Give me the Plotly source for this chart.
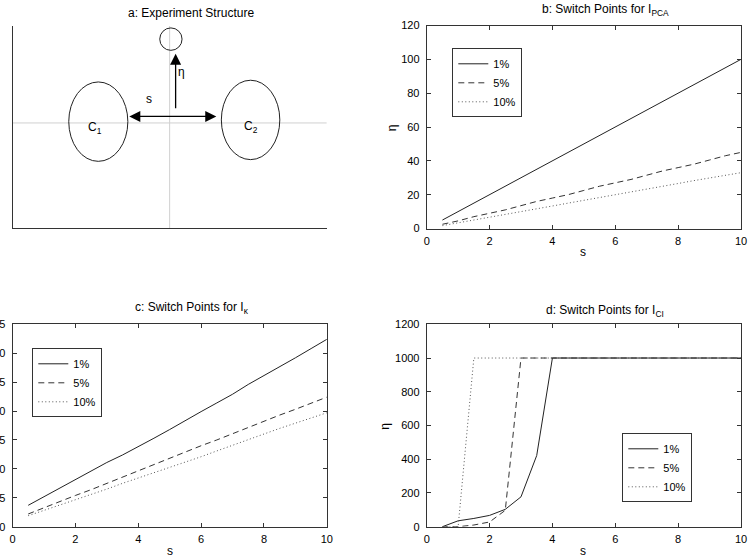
import plotly.graph_objects as go

# ---------------- data ----------------
s_values = [0.5, 1, 1.5, 2, 2.5, 3, 3.5, 4, 4.5, 5, 5.5, 6, 6.5, 7, 7.5, 8, 8.5, 9, 9.5, 10]
series_names = ["1%", "5%", "10%"]

# b: switch points for I_PCA
pca_1 = [5, 10, 15, 20, 25, 30, 35, 40, 45, 50, 55, 60, 65, 70, 75, 80, 85, 90, 95, 100]
pca_5 = [2.5, 4.5, 7, 9, 11, 13.5, 16, 18, 20, 22.5, 25, 27, 29, 31.5, 34, 36, 38, 40.5, 43, 45]
pca_10 = [1.7, 3.3, 5, 6.6, 8.3, 10, 11.6, 13.3, 15, 16.6, 18.3, 20, 21.6, 23.3, 25, 26.6, 28.3, 30, 31.6, 33]

# c: switch points for I_kappa
kap_1 = [3.7, 5.2, 6.7, 8.2, 9.6, 11.1, 12.4, 13.8, 15.3, 16.8, 18.4, 19.9, 21.4, 22.9, 24.6, 26.1, 27.6, 29.2, 30.8, 32.4]
kap_5 = [2.2, 3.3, 4.3, 5.4, 6.4, 7.5, 8.6, 9.6, 10.7, 11.8, 12.9, 14.0, 15.0, 16.1, 17.2, 18.3, 19.3, 20.3, 21.4, 22.4]
kap_10 = [1.9, 2.8, 3.7, 4.6, 5.6, 6.5, 7.5, 8.4, 9.3, 10.2, 11.2, 12.1, 13.1, 14.1, 15.1, 16.1, 17.0, 17.9, 18.8, 19.7]

# d: switch points for I_CI
ci_1 = [0, 35, 49, 67, 103, 177, 422, 1000, 1000, 1000, 1000, 1000, 1000, 1000, 1000, 1000, 1000, 1000, 1000, 1000]
ci_5 = [0, 0, 10, 28, 97, 1000, 1000, 1000, 1000, 1000, 1000, 1000, 1000, 1000, 1000, 1000, 1000, 1000, 1000, 1000]
ci_10 = [0, 0, 1000, 1000, 1000, 1000, 1000, 1000, 1000, 1000, 1000, 1000, 1000, 1000, 1000, 1000, 1000, 1000, 1000, 1000]

x_ticks = [0, 2, 4, 6, 8, 10]
b_y_ticks = [0, 20, 40, 60, 80, 100, 120]
c_y_ticks = [0, 5, 10, 15, 20, 25, 30, 35]
d_y_ticks = [0, 200, 400, 600, 800, 1000, 1200]

# a: experiment structure (schematic coordinates)
ellipse_names = ["C<sub>1</sub>", "C<sub>2</sub>", ""]
ellipse_cx = [-0.454, 0.515, 0.008]
ellipse_cy = [0.013, 0.030, 0.830]
ellipse_rx = [0.188, 0.186, 0.071]
ellipse_ry = [0.393, 0.393, 0.111]
label_x = [-0.475, 0.516]
label_y = [-0.05, -0.035]
eta_arrow = [0.038, 0.072, 0.038, 0.686]     # x0, y0, x1, y1
s_arrow = [-0.276, 0.065, 0.297, 0.065]      # x0, y0, x1, y1
eta_text_xy = [0.076, 0.503]
s_text_xy = [-0.134, 0.234]

FONT = "Liberation Sans, Arial, Helvetica, sans-serif"
FS = 11
FT = 12
AX = "#333333"
W, H = 750, 558

def px(xp):
    return xp / W

def py(yp):
    return 1 - yp / H

fig = go.Figure()

styles = [dict(color="#222222", width=1, dash="solid"),
          dict(color="#333333", width=1, dash="6px,4px"),
          dict(color="#555555", width=1, dash="1px,2.5px")]

panel_data = [("x2", "y2", "legend", [pca_1, pca_5, pca_10]),
              ("x3", "y3", "legend2", [kap_1, kap_5, kap_10]),
              ("x4", "y4", "legend3", [ci_1, ci_5, ci_10])]
for xa, ya, lg, ser in panel_data:
    for name, vals, st in zip(series_names, ser, styles):
        fig.add_trace(go.Scatter(x=s_values, y=vals, mode="lines", name=name,
                                 line=st, xaxis=xa, yaxis=ya, legend=lg,
                                 hoverinfo="skip"))

def data_axis(dom, rng, ticks, anchor, standoff):
    return dict(domain=dom, range=rng, tickvals=ticks, ticktext=[str(t) for t in ticks],
                ticks="inside", ticklen=4, tickcolor=AX, tickwidth=1,
                showline=True, linecolor=AX, linewidth=1, mirror="allticks",
                showgrid=False, zeroline=False, automargin=False, anchor=anchor,
                ticklabelstandoff=standoff,
                tickfont=dict(family=FONT, size=FS, color="black"))

dom_x_left = [px(12.5), px(326.8)]
dom_x_right = [px(426.7), px(741)]
dom_y_top = [py(228.5), py(25.5)]
dom_y_bot = [py(526.7), py(324.3)]

fig.update_layout(
    xaxis=dict(domain=dom_x_left, range=[-1, 1], showline=True, linecolor=AX, linewidth=1,
               ticks="", showticklabels=False, showgrid=False, zeroline=False,
               automargin=False, anchor="y"),
    yaxis=dict(domain=[py(228), py(26)], range=[-1.04, 0.96], showline=True, linecolor=AX,
               linewidth=1, ticks="", showticklabels=False, showgrid=False, zeroline=False,
               automargin=False, anchor="x"),
    xaxis2=data_axis(dom_x_right, [0, 10], x_ticks, "y2", 2),
    yaxis2=data_axis(dom_y_top, [0, 120], b_y_ticks, "x2", 4),
    xaxis3=data_axis(dom_x_left, [0, 10], x_ticks, "y3", 2),
    yaxis3=data_axis(dom_y_bot, [0, 35], c_y_ticks, "x3", 4),
    xaxis4=data_axis(dom_x_right, [0, 10], x_ticks, "y4", 2),
    yaxis4=data_axis(dom_y_bot, [0, 1200], d_y_ticks, "x4", 4),
)

def legend_box(x, y):
    return dict(x=x, y=y, xanchor="left", yanchor="top", xref="paper", yref="paper",
                bgcolor="white", bordercolor=AX, borderwidth=1,
                font=dict(family=FONT, size=FS, color="black"),
                tracegroupgap=0, itemwidth=30)

fig.update_layout(
    width=W, height=558,
    margin=dict(l=0, r=0, t=0, b=0),
    paper_bgcolor="white", plot_bgcolor="white",
    font=dict(family=FONT, size=FS, color="black"),
    showlegend=True,
    legend=legend_box(px(452.3), py(48.3)),
    legend2=legend_box(px(32.3), py(348.3)),
    legend3=legend_box(px(622.3), py(433.3)),
)

# ----- panel a: schematic -----
shapes = []
shapes.append(dict(type="line", xref="x", yref="y", x0=-1, x1=1, y0=0, y1=0,
                   line=dict(color="#d0d0d0", width=1), layer="below"))
shapes.append(dict(type="line", xref="x", yref="y", x0=0, x1=0, y0=-1.04, y1=0.96,
                   line=dict(color="#d0d0d0", width=1), layer="below"))
for cx, cy, rx, ry in zip(ellipse_cx, ellipse_cy, ellipse_rx, ellipse_ry):
    shapes.append(dict(type="circle", xref="x", yref="y", x0=cx - rx, x1=cx + rx,
                       y0=cy - ry, y1=cy + ry, line=dict(color="#222222", width=1)))
fig.update_layout(shapes=shapes)

ann = []
for name, lx, ly in zip(ellipse_names[:2], label_x, label_y):
    ann.append(dict(text=name, x=lx, y=ly, xref="x", yref="y", showarrow=False,
                    font=dict(family=FONT, size=FT, color="black")))
# arrows
ann.append(dict(x=eta_arrow[2], y=eta_arrow[3], ax=eta_arrow[0], ay=eta_arrow[1],
                xref="x", yref="y", axref="x", ayref="y", text=" ", showarrow=True,
                arrowhead=2, arrowsize=1.7, arrowwidth=1.3, arrowcolor="black"))
ann.append(dict(x=s_arrow[2], y=s_arrow[3], ax=s_arrow[0], ay=s_arrow[1],
                xref="x", yref="y", axref="x", ayref="y", text=" ", showarrow=True,
                arrowhead=2, startarrowhead=2, arrowside="end+start",
                arrowsize=1.7, startarrowsize=1.7, arrowwidth=1.3, arrowcolor="black"))
ann.append(dict(text="η", x=eta_text_xy[0], y=eta_text_xy[1], xref="x", yref="y",
                showarrow=False, font=dict(family=FONT, size=FT, color="black")))
ann.append(dict(text="s", x=s_text_xy[0], y=s_text_xy[1], xref="x", yref="y",
                showarrow=False, font=dict(family=FONT, size=FT, color="black")))

def ptext(text, x, y, angle=0, size=FS):
    return dict(text=text, x=px(x), y=py(y), xref="paper", yref="paper",
                xanchor="center", yanchor="middle", showarrow=False, textangle=angle,
                font=dict(family=FONT, size=size, color="black"))

# titles
ann.append(ptext("a: Experiment Structure", 191, 12.5, size=FT))
ann.append(ptext("b: Switch Points for I<sub>PCA</sub>", 605, 10.5, size=FT))
ann.append(ptext("c: Switch Points for I<sub>κ</sub>", 192, 307.5, size=FT))
ann.append(ptext("d: Switch Points for I<sub>CI</sub>", 605, 310.5, size=FT))
# axis labels
ann.append(ptext("s", 583.3, 252, size=FT))
ann.append(ptext("s", 169.5, 551, size=FT))
ann.append(ptext("s", 583.3, 551, size=FT))
ann.append(ptext("η", 391.7, 127.5, -90, size=FT))
ann.append(ptext("η", 385, 426.7, -90, size=FT))

fig.update_layout(annotations=ann)

fig.write_html("out.html", config={"displayModeBar": False},
               post_script="document.body.style.margin='0';")
